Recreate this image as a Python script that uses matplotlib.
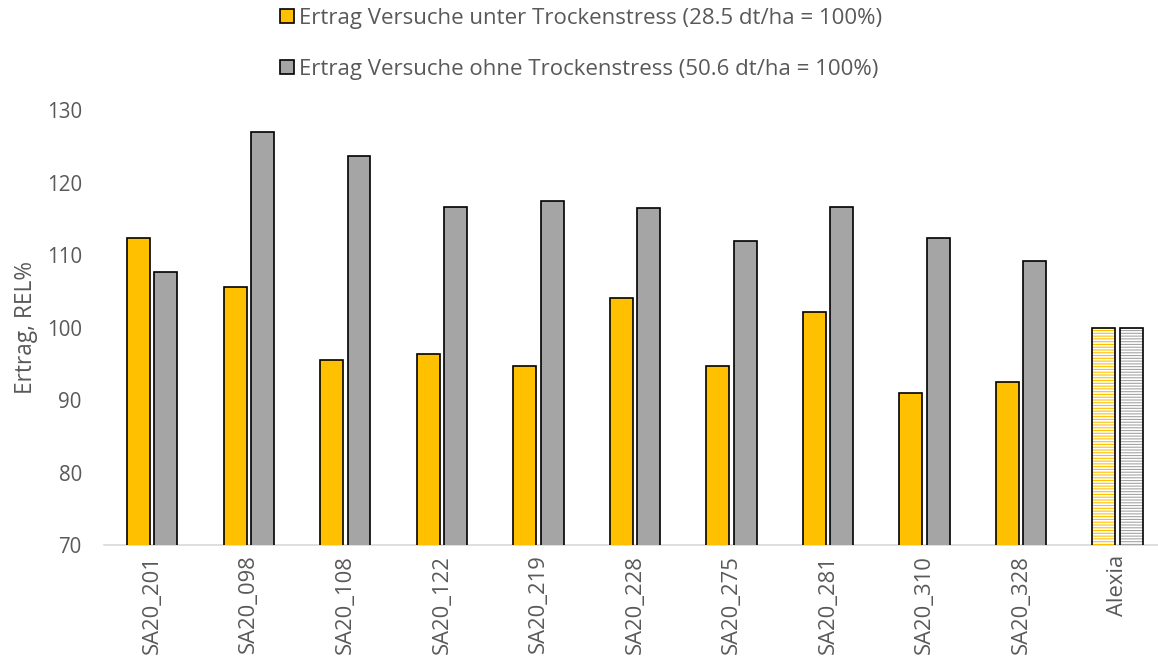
import numpy as np
import matplotlib.pyplot as plt
from matplotlib.patches import Patch

plt.rcParams['font.family'] = ['Open Sans', 'DejaVu Sans']
plt.rcParams['hatch.linewidth'] = 1.2

sorten = ['SA20_201', 'SA20_098', 'SA20_108', 'SA20_122', 'SA20_219',
          'SA20_228', 'SA20_275', 'SA20_281', 'SA20_310', 'SA20_328', 'Alexia']
mit_stress = [112.4, 105.6, 95.5, 96.4, 94.7, 104.1, 94.7, 102.2, 91.0, 92.5, 100.0]
ohne_stress = [107.7, 127.0, 123.7, 116.7, 117.4, 116.5, 111.9, 116.7, 112.4, 109.2, 100.0]
label_mit = 'Ertrag Versuche unter Trockenstress (28.5 dt/ha = 100%)'
label_ohne = 'Ertrag Versuche ohne Trockenstress (50.6 dt/ha = 100%)'

gelb = '#FFC000'
grau = '#A5A5A5'
txt = '#595959'

fig = plt.figure(figsize=(11.58, 6.62), dpi=100)
ax = fig.add_axes([0.0898, 0.1767, 0.9102, 0.657])

x = np.arange(len(sorten))
w = 0.238
off = 0.142

# Sorten normal, Standard (letzte) gestreift
for vals, dx, col in [(mit_stress, -off, gelb), (ohne_stress, off, grau)]:
    ax.bar(x[:-1] + dx, vals[:-1], w, color=col,
           edgecolor='black', linewidth=1.2, zorder=3)
    ax.bar(x[-1] + dx, vals[-1], w, color=col, edgecolor='white',
           hatch='------', linewidth=0, zorder=3)
    ax.bar(x[-1] + dx, vals[-1], w, fill=False, edgecolor='black',
           linewidth=1.2, zorder=4)

ax.set_ylim(70, 130)
ax.set_xlim(-0.5, 10.42)
ax.set_yticks(range(70, 131, 10))
ax.set_xticks(x)
ax.set_xticklabels(sorten, rotation=90)
ax.tick_params(axis='both', length=0, colors=txt)
ax.tick_params(axis='x', pad=7, labelsize=15.8)
ax.tick_params(axis='y', pad=16, labelsize=14.8)
ax.set_ylabel('Ertrag, REL%', fontsize=16.3, color=txt, labelpad=6)

for s in ['top', 'right', 'left']:
    ax.spines[s].set_visible(False)
ax.spines['bottom'].set_color('#D9D9D9')
ax.spines['bottom'].set_linewidth(1.2)

handles = [Patch(facecolor=gelb, edgecolor='black', linewidth=1.2, label=label_mit),
           Patch(facecolor=grau, edgecolor='black', linewidth=1.2, label=label_ohne)]
fig.legend(handles=handles, loc='center', bbox_to_anchor=(0.502, 0.9335),
           frameon=False, fontsize=16, labelcolor=txt, labelspacing=1.35,
           handlelength=0.6, handleheight=0.6, handletextpad=0.25)

fig.savefig('out.png', dpi=100)
